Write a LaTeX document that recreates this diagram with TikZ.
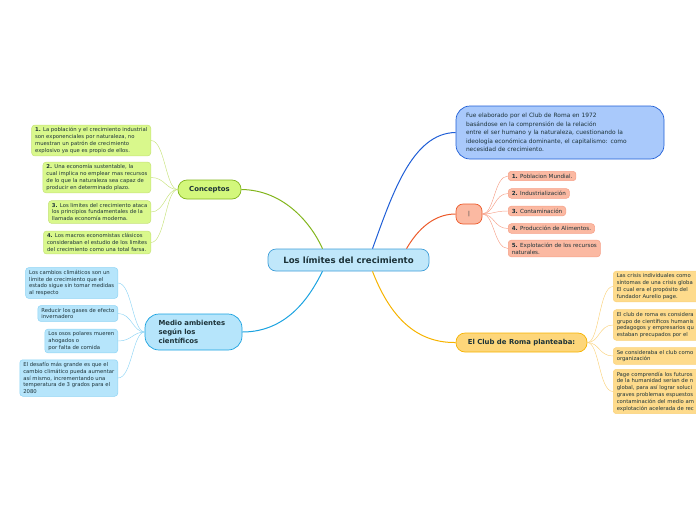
\documentclass[tikz,border=0pt]{standalone}
\usepackage{fontspec}
\setmainfont{DejaVu Sans}
\usetikzlibrary{positioning}
\definecolor{ink}{HTML}{1C3238}
\definecolor{rootfill}{HTML}{C0E7FA}
\definecolor{rootline}{HTML}{3F9ED8}
\definecolor{navyfill}{HTML}{A9C9FB}
\definecolor{navyline}{HTML}{1F5ED6}
\definecolor{redfill}{HTML}{FBB9A2}
\definecolor{redline}{HTML}{EC5B2B}
\definecolor{redsub}{HTML}{F6A088}
\definecolor{gold}{HTML}{FDD67A}
\definecolor{goldline}{HTML}{F6B300}
\definecolor{goldsub}{HTML}{FAD27C}
\definecolor{goldleaf}{HTML}{FEDB8C}
\definecolor{lime}{HTML}{D3F77C}
\definecolor{limeline}{HTML}{82B51C}
\definecolor{limesub}{HTML}{C6E27A}
\definecolor{limeleaf}{HTML}{D9F88C}
\definecolor{sky}{HTML}{B6E5FB}
\definecolor{skyline}{HTML}{1AA2E0}
\definecolor{skysub}{HTML}{8ED4F5}

\begin{document}
\begin{tikzpicture}[x=1pt, y=-1pt,
    leaf/.style={draw, rounded corners=3pt, line width=0.5pt, align=left, text=ink, inner xsep=3.5pt, inner ysep=2.5pt, font=\fontsize{5.3}{6.8}\selectfont},
    topic/.style={draw, rounded corners=9pt, line width=0.7pt, align=left, text=ink, font=\fontsize{6.9}{8.6}\selectfont\bfseries},
    branch/.style={line width=1pt},
    twig/.style={line width=0.45pt}
  ]
  \useasboundingbox (0,0) rectangle (696,520);
  \clip (0,0) rectangle (696,520);

  % centre
  \node[draw=rootline, fill=rootfill, rounded corners=8pt, line width=0.7pt, text=ink,
        font=\fontsize{8.6}{10}\selectfont\bfseries, minimum width=161pt, minimum height=22pt]
        (root) at (348.5,260) {Los límites del crecimiento};

  % main topics
  \node[topic, draw=limeline, fill=lime, minimum width=63pt, minimum height=19pt, align=center] (conceptos) at (209.5,189.5) {Conceptos};
  \node[topic, draw=skyline, fill=sky, minimum width=97pt, minimum height=36pt, rounded corners=14pt, text width=70pt] (medio) at (193.5,332) {Medio ambientes\\según los\\científicos};
  \node[draw=navyline, fill=navyfill, rounded corners=14pt, line width=0.7pt, align=left, text=ink,
        font=\fontsize{5.9}{8.5}\selectfont, minimum width=208pt, minimum height=53pt, text width=188pt]
        (origen) at (560,132.5) {Fue elaborado por el Club de Roma en 1972\\basándose en la comprensión de la relación\\entre el ser humano y la naturaleza, cuestionando la\\ideología económica dominante, el capitalismo: como\\necesidad de crecimiento.};
  \node[topic, draw=redline, fill=redfill, minimum width=26pt, minimum height=20pt, rounded corners=7pt, font=\fontsize{5.5}{6}\selectfont, align=center] (barra) at (469,214) {|};
  \node[topic, draw=goldline, fill=gold, minimum width=131pt, minimum height=19pt, align=center] (club) at (521.5,342.5) {El Club de Roma planteaba:};

  \draw[branch, limeline] (conceptos.east) .. controls (285,190) and (312,225) .. ([xshift=-26pt]root.north);
  \draw[branch, skyline] (medio.east) .. controls (290,332) and (312,292) .. ([xshift=-26pt]root.south);
  \draw[branch, navyline] ([xshift=24pt]root.north) .. controls (392,195) and (412,133) .. (origen.west);
  \draw[branch, redline] ([xshift=58pt]root.north) .. controls (422,222) and (440,214) .. (barra.west);
  \draw[branch, goldline] ([xshift=24pt]root.south) .. controls (392,322) and (420,343) .. (club.west);

  % conceptos
  \foreach \n/\y/\t in {
      c1/140.5/{\textbf{1.} La población y el crecimiento industrial\\son exponenciales por naturaleza, no\\muestran un patrón de crecimiento\\explosivo ya que es propio de ellos.},
      c2/177.5/{\textbf{2.} Una economía sustentable, la\\cual implica no emplear mas recursos\\de lo que la naturaleza sea capaz de\\producir en determinado plazo.},
      c3/212/{\textbf{3.} Los limites del crecimiento ataca\\los principios fundamentales de la\\llamada economía moderna.},
      c4/242.5/{\textbf{4.} Los macros economistas clásicos\\consideraban el estudio de los limites\\del crecimiento como una total farsa.}} {
    \node[leaf, draw=limesub, fill=limeleaf, anchor=east] (\n) at (151,\y) {\t};
    \draw[twig, limesub] (\n.east) .. controls +(14,0) and +(-12,0) .. (conceptos.west);
  }

  % medio ambiente
  \foreach \n/\y/\t in {
      m1/283/{Los cambios climáticos son un\\límite de crecimiento que el\\estado sigue sin tomar medidas\\al respecto},
      m2/313.5/{Reducir los gases de efecto\\invernadero},
      m3/341/{Los osos polares mueren\\ahogados o\\por falta de comida},
      m4/378/{El desafío más grande es que el\\cambio climático pueda aumentar\\así mismo, incrementando una\\temperatura de 3 grados para el\\2080}} {
    \node[leaf, draw=skysub, fill=sky, anchor=east] (\n) at (118,\y) {\t};
    \draw[twig, skysub] (\n.east) .. controls +(14,0) and +(-12,0) .. (medio.west);
  }

  % factores
  \foreach \n/\y/\t in {
      f1/176/{\textbf{1.} Poblacion Mundial.},
      f2/193.5/{\textbf{2.} Industrialización},
      f3/211/{\textbf{3.} Contaminación},
      f4/228.5/{\textbf{4.} Producción de Alimentos.},
      f5/248.5/{\textbf{5.} Explotación de los recursos\\naturales.}} {
    \node[leaf, draw=redsub, fill=redfill, anchor=west, font=\fontsize{5.6}{7}\selectfont] (\n) at (508,\y) {\t};
    \draw[twig, redsub] (barra.east) .. controls +(12,0) and +(-14,0) .. (\n.west);
  }

  % club de roma
  \foreach \n/\y/\t in {
      r1/286.5/{Las crisis individuales como\\síntomas de una crisis globa\\El cual era el propósito del\\fundador Aurelio page.},
      r2/325/{El club de roma es considera\\grupo de científicos humanis\\pedagogos y empresarios qu\\estaban precupados por el},
      r3/356/{Se consideraba el club como\\ organización},
      r4/391.5/{Page comprendía los futuros\\de la humanidad serian de n\\global, para así lograr soluci\\graves problemas espuestos\\contaminación del medio am\\explotación acelerada de rec}} {
    \node[leaf, draw=goldsub, fill=goldleaf, anchor=west, text width=110pt] (\n) at (613,\y) {\t};
    \draw[twig, goldsub] (club.east) .. controls +(12,0) and +(-14,0) .. (\n.west);
  }
\end{tikzpicture}
\end{document}
